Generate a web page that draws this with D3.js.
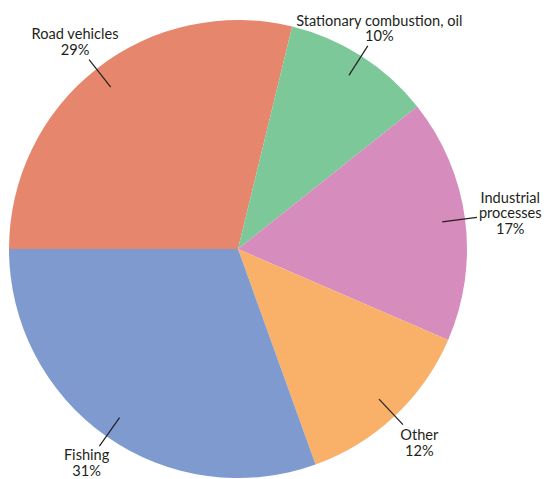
<!DOCTYPE html>
<html>
<head>
<meta charset="utf-8">
<script src="https://cdn.jsdelivr.net/npm/d3@7"></script>
<style>
  body { margin: 0; background: #fff; }
  svg { display: block; }
  .lbl { font-family: Lato, "Noto Sans", sans-serif; font-size: 14.6px; fill: #231f20; }
</style>
</head>
<body>
<svg id="chart" width="549" height="479"></svg>
<script>
// slice data (clockwise from 9 o'clock)
const categories = ["Road vehicles", "Stationary combustion, oil", "Industrial processes", "Other", "Fishing"];
const shares = [28.8, 10.5, 17.2, 13.0, 30.5];
const shareLabels = ["29%", "10%", "17%", "12%", "31%"];
const labelLines = [["Road vehicles"], ["Stationary combustion, oil"], ["Industrial", "processes"], ["Other"], ["Fishing"]];
const colors = ["#e5866d", "#7dc899", "#d68cbd", "#f9b068", "#7e9acf"];

const width = 549, height = 479;
const cx = 238, cy = 249, radius = 229;

const svg = d3.select("#chart");
const g = svg.append("g").attr("transform", `translate(${cx},${cy})`);

const pie = d3.pie()
  .sort(null)
  .value(d => d)
  .startAngle(-Math.PI / 2)
  .endAngle(Math.PI * 1.5);

const arcs = pie(shares);

const arc = d3.arc().innerRadius(0).outerRadius(radius);
const tickIn = d3.arc().innerRadius(206).outerRadius(206);
const tickOut = d3.arc().innerRadius(241).outerRadius(241);

g.selectAll("path.slice")
  .data(arcs)
  .join("path")
  .attr("class", "slice")
  .attr("d", arc)
  .attr("fill", (d, i) => colors[i]);

//leader lines
g.selectAll("line.tick")
  .data(arcs)
  .join("line")
  .attr("class", "tick")
  .attr("x1", d => tickIn.centroid(d)[0])
  .attr("y1", d => tickIn.centroid(d)[1])
  .attr("x2", d => tickOut.centroid(d)[0])
  .attr("y2", d => tickOut.centroid(d)[1])
  .attr("stroke", "#231f20")
  .attr("stroke-width", 1.2);

//labels: block of lines, pushed out from the tick end along the slice direction
const lineH = 15.6;
arcs.forEach((d, i) => {
  const lines = labelLines[i].concat([shareLabels[i]]);
  const t = g.append("text").attr("class", "lbl").attr("text-anchor", "middle");
  lines.forEach((s, k) => {
    t.append("tspan").attr("x", 0).attr("y", k * lineH).text(s);
  });
  const bb = t.node().getBBox();
  const mid = (d.startAngle + d.endAngle) / 2;
  const ux = Math.sin(mid), uy = -Math.cos(mid);
  const end = tickOut.centroid(d);
  const hw = bb.width / 2, hh = bb.height / 2;
  const dist = Math.min(hw / Math.max(Math.abs(ux), 1e-6), hh / Math.max(Math.abs(uy), 1e-6)) + 2;
  let bx = end[0] + ux * dist, by = end[1] + uy * dist;
  //keep inside the picture
  by = Math.min(by, height - cy - hh);
  by = Math.max(by, -cy + hh);
  const ox = bx - (bb.x + hw), oy = by - (bb.y + hh);
  t.attr("transform", `translate(${ox},${oy})`);
});
</script>
</body>
</html>
